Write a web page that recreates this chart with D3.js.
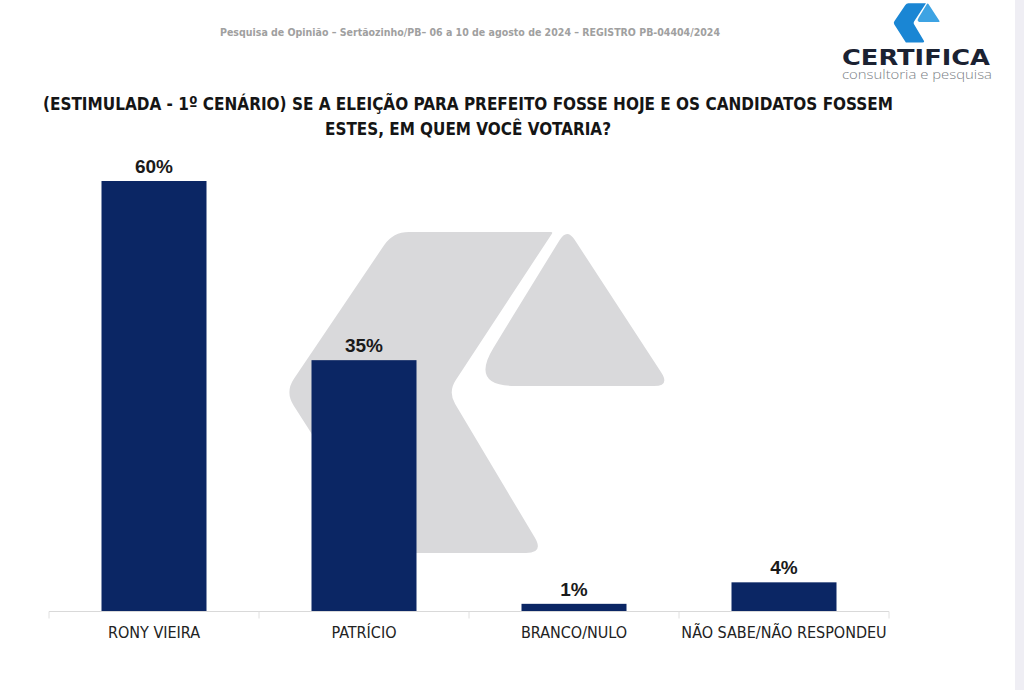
<!DOCTYPE html>
<html>
<head>
<meta charset="utf-8">
<script src="https://cdn.jsdelivr.net/npm/d3@7"></script>
<style>
  body { margin: 0; background: #fff; }
  svg { display: block; }
</style>
</head>
<body>
<div id="chart"></div>
<script>
// data
var categories = ["RONY VIEIRA", "PATRÍCIO", "BRANCO/NULO", "NÃO SABE/NÃO RESPONDEU"]
var values = [60, 35, 1, 4]
var header = "Pesquisa de Opinião – Sertãozinho/PB– 06 a 10 de agosto de 2024 – REGISTRO PB-04404/2024"
var titleLines = [
  "(ESTIMULADA - 1º CENÁRIO) SE A ELEIÇÃO PARA PREFEITO FOSSE HOJE E OS CANDIDATOS FOSSEM",
  "ESTES, EM QUEM VOCÊ VOTARIA?"
]

var W = 1024, H = 690
var narrow = "'Liberation Sans Narrow', 'Arial Narrow', 'DejaVu Sans Condensed', sans-serif"

var svg = d3.select("#chart").append("svg")
  .attr("width", W)
  .attr("height", H)

svg.append("rect").attr("width", W).attr("height", H).attr("fill", "#fff")
svg.append("rect").attr("x", 1015).attr("width", 9).attr("height", H).attr("fill", "#efeef4")

// rounded polygon helper for the logo shapes
function roundPoly(pts, r) {
  var n = pts.length, d = ""
  pts.forEach(function(p, i) {
    var prev = pts[(i - 1 + n) % n], next = pts[(i + 1) % n]
    var rad = r[i]
    function towards(a, b, len) {
      var dx = b[0] - a[0], dy = b[1] - a[1], l = Math.sqrt(dx * dx + dy * dy)
      return [a[0] + dx / l * len, a[1] + dy / l * len]
    }
    var p1 = towards(p, prev, rad), p2 = towards(p, next, rad)
    d += (i == 0 ? "M" : "L") + p1[0] + "," + p1[1] + "Q" + p[0] + "," + p[1] + " " + p2[0] + "," + p2[1]
  })
  return d + "Z"
}
var chevron = roundPoly(
  [[393, 232], [553, 232], [448, 392], [544, 553], [388, 553], [285, 392]],
  [16, 2, 14, 18, 2, 16])
var triangle = roundPoly(
  [[567, 228], [670, 386], [470, 386]],
  [14, 16, 45])

function logoShape(g, c1, c2) {
  g.append("path").attr("d", chevron).attr("fill", c1)
  g.append("path").attr("d", triangle).attr("fill", c2)
}

// watermark
logoShape(svg.append("g"), "#d9d9db", "#d9d9db")

// header text
svg.append("text")
  .attr("x", 470).attr("y", 36)
  .attr("text-anchor", "middle")
  .style("font-family", narrow).style("font-size", "11px").style("font-weight", "bold")
  .attr("textLength", 500).attr("lengthAdjust", "spacingAndGlyphs")
  .attr("fill", "#a0a0a0")
  .text(header)

// logo
var logo = svg.append("g").attr("transform", "translate(858.5,-25) scale(0.122)")
logoShape(logo, "#1a86d4", "#3da3e3")
svg.append("text")
  .attr("x", 916).attr("y", 65)
  .attr("text-anchor", "middle")
  .style("font-family", "'DejaVu Sans', sans-serif").style("font-size", "22px").style("font-weight", "bold")
  .attr("textLength", 148).attr("lengthAdjust", "spacingAndGlyphs")
  .attr("fill", "#1b2232")
  .text("CERTIFICA")
svg.append("text")
  .attr("x", 917).attr("y", 79)
  .attr("text-anchor", "middle")
  .style("font-family", "'Open Sans', sans-serif").style("font-size", "12.5px").style("font-weight", 300)
  .attr("textLength", 150).attr("lengthAdjust", "spacingAndGlyphs")
  .attr("fill", "#7b7f86")
  .text("consultoria e pesquisa")

// title
var titleWidths = [850, 286]
svg.selectAll(".title")
  .data(titleLines).enter()
  .append("text")
  .attr("class", "title")
  .attr("x", 468)
  .attr("y", function(d, i) { return 110 + i * 25 })
  .attr("text-anchor", "middle")
  .style("font-family", narrow).style("font-size", "18px").style("font-weight", "bold")
  .attr("textLength", function(d, i) { return titleWidths[i] })
  .attr("lengthAdjust", "spacingAndGlyphs")
  .attr("fill", "#151515")
  .text(function(d) { return d })

// scales
var x = d3.scaleBand()
  .domain(categories)
  .range([49, 889])
  .paddingInner(0.5)
  .paddingOuter(0.25)

var y = d3.scaleLinear()
  .domain([0, 60])
  .range([611, 181])

// axis line and separators
var axis = svg.append("g")
  .attr("transform", "translate(0," + 611.5 + ")")
  .call(d3.axisBottom(x).tickSize(0).tickPadding(15))
axis.select(".domain").attr("stroke", "#d9d9d9").attr("d", "M" + x.range()[0] + ",0H" + x.range()[1])
axis.selectAll(".tick text")
  .style("font-family", narrow).style("font-size", "16px")
  .attr("fill", "#222")

var bounds = categories.map(function(c) { return x(c) - x.step() * x.paddingInner() / 2 })
bounds.push(x.range()[1])
axis.selectAll(".sep")
  .data(bounds).enter()
  .append("line")
  .attr("class", "sep")
  .attr("x1", function(d) { return d }).attr("x2", function(d) { return d })
  .attr("y1", 0).attr("y2", 7)
  .attr("stroke", "#e0e0e0")

// bars
svg.selectAll(".bar")
  .data(values).enter()
  .append("rect")
  .attr("class", "bar")
  .attr("x", function(d, i) { return x(categories[i]) })
  .attr("y", function(d) { return y(d) })
  .attr("width", x.bandwidth())
  .attr("height", function(d) { return y(0) - y(d) })
  .attr("fill", "#0b2664")

// value labels
svg.selectAll(".val")
  .data(values).enter()
  .append("text")
  .attr("class", "val")
  .attr("x", function(d, i) { return x(categories[i]) + x.bandwidth() / 2 })
  .attr("y", function(d) { return y(d) - 8 })
  .attr("text-anchor", "middle")
  .style("font-family", "'Liberation Sans', Arial, sans-serif").style("font-size", "19px").style("font-weight", "bold")
  .attr("fill", "#1a1a1a")
  .text(function(d) { return d + "%" })
</script>
</body>
</html>
